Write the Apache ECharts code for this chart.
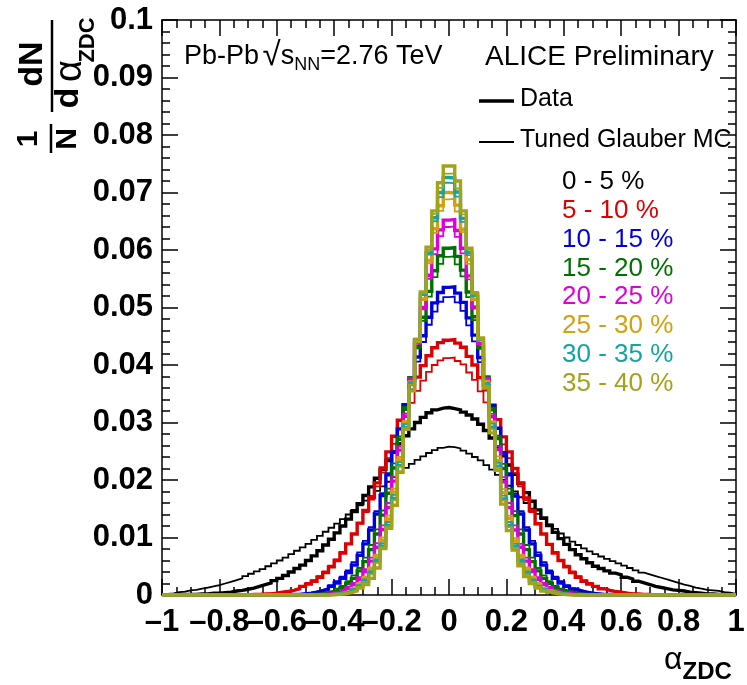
<!DOCTYPE html>
<html>
<head>
<meta charset="utf-8">
<script src="https://cdn.jsdelivr.net/npm/echarts@6.0.0/dist/echarts.min.js"></script>
<style>
  html, body { margin: 0; padding: 0; background: #fff; }
  #chart { width: 747px; height: 685px; }
</style>
</head>
<body>
<div id="chart"></div>
<script>
// 100 bins of width 0.02 between -1 and 1
const binLow = -1;
const binWidth = 0.02;

const xTickLabels = ['\u20131', '\u20130.8', '\u20130.6', '\u20130.4', '\u20130.2', '0', '0.2', '0.4', '0.6', '0.8', '1'];
const yTickLabels = ['0', '0.01', '0.02', '0.03', '0.04', '0.05', '0.06', '0.07', '0.08', '0.09', '0.1'];

const classes = ['0 - 5 %', '5 - 10 %', '10 - 15 %', '15 - 20 %', '20 - 25 %', '25 - 30 %', '30 - 35 %', '35 - 40 %'];
const classColors = ['#000000', '#dd0000', '#0000dd', '#007000', '#dd00dd', '#d4a010', '#16a3a3', '#a3a31a'];

// 1/N dN/dalpha per bin, data (thick) and tuned Glauber MC (thin)
const data0_5 = [
  0, 0, 0.0001, 0.0001, 0.0001, 0.0001, 0.0002, 0.0002, 0.0003, 0.0003,
  0.0004, 0.0005, 0.0007, 0.0008, 0.0010, 0.0012, 0.0015, 0.0018, 0.0021, 0.0025,
  0.0029, 0.0034, 0.0040, 0.0046, 0.0052, 0.0060, 0.0068, 0.0077, 0.0087, 0.0097,
  0.0108, 0.0120, 0.0132, 0.0145, 0.0159, 0.0173, 0.0188, 0.0203, 0.0218, 0.0234,
  0.0249, 0.0263, 0.0277, 0.0289, 0.0300, 0.0309, 0.0317, 0.0322, 0.0325, 0.0326,
  0.0324, 0.0322, 0.0318, 0.0313, 0.0306, 0.0297, 0.0286, 0.0273, 0.0258, 0.0242,
  0.0226, 0.0210, 0.0194, 0.0178, 0.0163, 0.0148, 0.0134, 0.0121, 0.0109, 0.0098,
  0.0088, 0.0079, 0.0070, 0.0063, 0.0056, 0.0050, 0.0046, 0.0042, 0.0038, 0.0035,
  0.0031, 0.0028, 0.0024, 0.0021, 0.0018, 0.0015, 0.0013, 0.0011, 0.0009, 0.0008,
  0.0007, 0.0005, 0.0004, 0.0003, 0.0002, 0.0002, 0.0001, 0.0001, 0.0001, 0
];
const mc0_5 = [
  0.0002, 0.0003, 0.0005, 0.0006, 0.0008, 0.0009, 0.0011, 0.0013, 0.0015, 0.0017,
  0.0020, 0.0023, 0.0026, 0.0029, 0.0033, 0.0037, 0.0041, 0.0045, 0.0050, 0.0055,
  0.0060, 0.0065, 0.0071, 0.0077, 0.0083, 0.0089, 0.0096, 0.0103, 0.0110, 0.0117,
  0.0124, 0.0132, 0.0140, 0.0148, 0.0156, 0.0164, 0.0172, 0.0181, 0.0189, 0.0197,
  0.0205, 0.0213, 0.0221, 0.0228, 0.0235, 0.0241, 0.0247, 0.0252, 0.0256, 0.0258,
  0.0257, 0.0255, 0.0251, 0.0246, 0.0240, 0.0234, 0.0226, 0.0218, 0.0209, 0.0200,
  0.0190, 0.0180, 0.0170, 0.0160, 0.0150, 0.0141, 0.0132, 0.0123, 0.0115, 0.0107,
  0.0100, 0.0093, 0.0087, 0.0081, 0.0076, 0.0071, 0.0067, 0.0063, 0.0059, 0.0055,
  0.0051, 0.0047, 0.0043, 0.0039, 0.0036, 0.0033, 0.0030, 0.0027, 0.0024, 0.0021,
  0.0018, 0.0016, 0.0013, 0.0011, 0.0009, 0.0008, 0.0007, 0.0005, 0.0004, 0.0002
];
const data5_10 = [
  0, 0, 0, 0, 0, 0, 0, 0, 0, 0,
  0, 0, 0, 0, 0, 0.0001, 0.0001, 0.0002, 0.0002, 0.0003,
  0.0005, 0.0006, 0.0008, 0.0011, 0.0015, 0.0019, 0.0024, 0.0031, 0.0039, 0.0049,
  0.0060, 0.0073, 0.0089, 0.0106, 0.0125, 0.0147, 0.0170, 0.0195, 0.0221, 0.0249,
  0.0276, 0.0304, 0.0330, 0.0356, 0.0379, 0.0399, 0.0416, 0.0430, 0.0439, 0.0443,
  0.0444, 0.0438, 0.0431, 0.0415, 0.0400, 0.0378, 0.0357, 0.0329, 0.0305, 0.0275,
  0.0249, 0.0220, 0.0195, 0.0169, 0.0147, 0.0124, 0.0106, 0.0088, 0.0073, 0.0060,
  0.0049, 0.0039, 0.0031, 0.0024, 0.0019, 0.0015, 0.0011, 0.0008, 0.0006, 0.0005,
  0.0003, 0.0002, 0.0002, 0.0001, 0.0001, 0, 0, 0, 0, 0,
  0, 0, 0, 0, 0, 0, 0, 0, 0, 0
];
const mc5_10 = [
  0, 0, 0, 0, 0, 0, 0, 0, 0, 0,
  0, 0, 0, 0, 0.0001, 0.0001, 0.0002, 0.0002, 0.0003, 0.0004,
  0.0005, 0.0007, 0.0009, 0.0012, 0.0016, 0.0021, 0.0026, 0.0033, 0.0041, 0.0051,
  0.0062, 0.0075, 0.0089, 0.0106, 0.0124, 0.0144, 0.0166, 0.0189, 0.0213, 0.0238,
  0.0263, 0.0288, 0.0312, 0.0334, 0.0355, 0.0373, 0.0388, 0.0400, 0.0408, 0.0412,
  0.0413, 0.0407, 0.0401, 0.0387, 0.0374, 0.0354, 0.0335, 0.0311, 0.0289, 0.0262,
  0.0238, 0.0212, 0.0189, 0.0165, 0.0144, 0.0123, 0.0106, 0.0088, 0.0075, 0.0061,
  0.0051, 0.0041, 0.0033, 0.0026, 0.0021, 0.0016, 0.0012, 0.0009, 0.0007, 0.0005,
  0.0004, 0.0003, 0.0002, 0.0002, 0.0001, 0.0001, 0, 0, 0, 0,
  0, 0, 0, 0, 0, 0, 0, 0, 0, 0
];
const data10_15 = [
  0, 0, 0, 0, 0, 0, 0, 0, 0, 0,
  0, 0, 0, 0, 0, 0, 0, 0, 0, 0,
  0, 0, 0.0001, 0.0001, 0.0002, 0.0003, 0.0005, 0.0007, 0.0010, 0.0015,
  0.0021, 0.0029, 0.0039, 0.0052, 0.0069, 0.0089, 0.0113, 0.0141, 0.0173, 0.0209,
  0.0248, 0.0289, 0.0331, 0.0374, 0.0414, 0.0451, 0.0483, 0.0508, 0.0526, 0.0535,
  0.0536, 0.0525, 0.0509, 0.0482, 0.0452, 0.0413, 0.0375, 0.0330, 0.0290, 0.0247,
  0.0209, 0.0172, 0.0141, 0.0113, 0.0089, 0.0069, 0.0052, 0.0039, 0.0029, 0.0021,
  0.0015, 0.0010, 0.0007, 0.0005, 0.0003, 0.0002, 0.0001, 0.0001, 0, 0,
  0, 0, 0, 0, 0, 0, 0, 0, 0, 0,
  0, 0, 0, 0, 0, 0, 0, 0, 0, 0
];
const mc10_15 = [
  0, 0, 0, 0, 0, 0, 0, 0, 0, 0,
  0, 0, 0, 0, 0, 0, 0, 0, 0, 0,
  0, 0.0001, 0.0001, 0.0002, 0.0003, 0.0004, 0.0006, 0.0009, 0.0012, 0.0017,
  0.0024, 0.0032, 0.0043, 0.0057, 0.0074, 0.0094, 0.0118, 0.0146, 0.0177, 0.0212,
  0.0250, 0.0289, 0.0329, 0.0368, 0.0406, 0.0440, 0.0470, 0.0493, 0.0510, 0.0518,
  0.0519, 0.0509, 0.0494, 0.0469, 0.0441, 0.0405, 0.0369, 0.0328, 0.0290, 0.0249,
  0.0212, 0.0176, 0.0146, 0.0118, 0.0094, 0.0074, 0.0057, 0.0043, 0.0032, 0.0024,
  0.0017, 0.0012, 0.0009, 0.0006, 0.0004, 0.0003, 0.0002, 0.0001, 0.0001, 0,
  0, 0, 0, 0, 0, 0, 0, 0, 0, 0,
  0, 0, 0, 0, 0, 0, 0, 0, 0, 0
];
const data15_20 = [
  0, 0, 0, 0, 0, 0, 0, 0, 0, 0,
  0, 0, 0, 0, 0, 0, 0, 0, 0, 0,
  0, 0, 0, 0, 0, 0.0001, 0.0001, 0.0002, 0.0004, 0.0006,
  0.0009, 0.0013, 0.0020, 0.0029, 0.0042, 0.0058, 0.0079, 0.0106, 0.0139, 0.0177,
  0.0221, 0.0271, 0.0323, 0.0378, 0.0432, 0.0483, 0.0528, 0.0564, 0.0590, 0.0603,
  0.0604, 0.0589, 0.0565, 0.0527, 0.0484, 0.0431, 0.0379, 0.0322, 0.0272, 0.0220,
  0.0177, 0.0138, 0.0106, 0.0079, 0.0058, 0.0042, 0.0029, 0.0020, 0.0013, 0.0009,
  0.0006, 0.0004, 0.0002, 0.0001, 0.0001, 0, 0, 0, 0, 0,
  0, 0, 0, 0, 0, 0, 0, 0, 0, 0,
  0, 0, 0, 0, 0, 0, 0, 0, 0, 0
];
const mc15_20 = [
  0, 0, 0, 0, 0, 0, 0, 0, 0, 0,
  0, 0, 0, 0, 0, 0, 0, 0, 0, 0,
  0, 0, 0, 0, 0.0001, 0.0001, 0.0002, 0.0003, 0.0005, 0.0007,
  0.0011, 0.0016, 0.0024, 0.0034, 0.0047, 0.0065, 0.0087, 0.0114, 0.0147, 0.0185,
  0.0229, 0.0276, 0.0327, 0.0379, 0.0429, 0.0477, 0.0519, 0.0553, 0.0576, 0.0588,
  0.0589, 0.0575, 0.0554, 0.0518, 0.0478, 0.0428, 0.0380, 0.0326, 0.0277, 0.0228,
  0.0185, 0.0146, 0.0114, 0.0087, 0.0065, 0.0047, 0.0034, 0.0024, 0.0016, 0.0011,
  0.0007, 0.0005, 0.0003, 0.0002, 0.0001, 0.0001, 0, 0, 0, 0,
  0, 0, 0, 0, 0, 0, 0, 0, 0, 0,
  0, 0, 0, 0, 0, 0, 0, 0, 0, 0
];
const data20_25 = [
  0, 0, 0, 0, 0, 0, 0, 0, 0, 0,
  0, 0, 0, 0, 0, 0, 0, 0, 0, 0,
  0, 0, 0, 0, 0, 0, 0, 0.0001, 0.0001, 0.0003,
  0.0004, 0.0007, 0.0011, 0.0018, 0.0027, 0.0041, 0.0059, 0.0083, 0.0114, 0.0152,
  0.0198, 0.0252, 0.0311, 0.0374, 0.0438, 0.0500, 0.0556, 0.0602, 0.0635, 0.0652,
  0.0653, 0.0634, 0.0603, 0.0555, 0.0501, 0.0437, 0.0375, 0.0310, 0.0253, 0.0197,
  0.0152, 0.0113, 0.0083, 0.0059, 0.0041, 0.0027, 0.0018, 0.0011, 0.0007, 0.0004,
  0.0003, 0.0001, 0.0001, 0, 0, 0, 0, 0, 0, 0,
  0, 0, 0, 0, 0, 0, 0, 0, 0, 0,
  0, 0, 0, 0, 0, 0, 0, 0, 0, 0
];
const mc20_25 = [
  0, 0, 0, 0, 0, 0, 0, 0, 0, 0,
  0, 0, 0, 0, 0, 0, 0, 0, 0, 0,
  0, 0, 0, 0, 0, 0, 0, 0.0001, 0.0002, 0.0003,
  0.0005, 0.0009, 0.0014, 0.0021, 0.0031, 0.0045, 0.0065, 0.0090, 0.0121, 0.0160,
  0.0206, 0.0258, 0.0316, 0.0377, 0.0439, 0.0497, 0.0550, 0.0593, 0.0624, 0.0640,
  0.0641, 0.0623, 0.0594, 0.0549, 0.0498, 0.0438, 0.0378, 0.0315, 0.0259, 0.0205,
  0.0160, 0.0121, 0.0089, 0.0065, 0.0045, 0.0031, 0.0021, 0.0014, 0.0009, 0.0005,
  0.0003, 0.0002, 0.0001, 0, 0, 0, 0, 0, 0, 0,
  0, 0, 0, 0, 0, 0, 0, 0, 0, 0,
  0, 0, 0, 0, 0, 0, 0, 0, 0, 0
];
const data25_30 = [
  0, 0, 0, 0, 0, 0, 0, 0, 0, 0,
  0, 0, 0, 0, 0, 0, 0, 0, 0, 0,
  0, 0, 0, 0, 0, 0, 0, 0, 0, 0.0001,
  0.0002, 0.0004, 0.0007, 0.0011, 0.0018, 0.0029, 0.0044, 0.0066, 0.0095, 0.0132,
  0.0179, 0.0235, 0.0299, 0.0369, 0.0443, 0.0515, 0.0582, 0.0637, 0.0677, 0.0700,
  0.0699, 0.0678, 0.0636, 0.0583, 0.0514, 0.0444, 0.0368, 0.0300, 0.0234, 0.0178,
  0.0133, 0.0094, 0.0066, 0.0044, 0.0029, 0.0018, 0.0011, 0.0007, 0.0004, 0.0002,
  0.0001, 0, 0, 0, 0, 0, 0, 0, 0, 0,
  0, 0, 0, 0, 0, 0, 0, 0, 0, 0,
  0, 0, 0, 0, 0, 0, 0, 0, 0, 0
];
const mc25_30 = [
  0, 0, 0, 0, 0, 0, 0, 0, 0, 0,
  0, 0, 0, 0, 0, 0, 0, 0, 0, 0,
  0, 0, 0, 0, 0, 0, 0, 0, 0.0001, 0.0001,
  0.0003, 0.0005, 0.0008, 0.0013, 0.0021, 0.0032, 0.0048, 0.0070, 0.0100, 0.0138,
  0.0185, 0.0240, 0.0303, 0.0372, 0.0444, 0.0513, 0.0577, 0.0630, 0.0668, 0.0688,
  0.0689, 0.0667, 0.0631, 0.0576, 0.0514, 0.0443, 0.0373, 0.0302, 0.0241, 0.0184,
  0.0138, 0.0099, 0.0070, 0.0048, 0.0032, 0.0021, 0.0013, 0.0008, 0.0005, 0.0003,
  0.0001, 0.0001, 0, 0, 0, 0, 0, 0, 0, 0,
  0, 0, 0, 0, 0, 0, 0, 0, 0, 0,
  0, 0, 0, 0, 0, 0, 0, 0, 0, 0
];
const data30_35 = [
  0, 0, 0, 0, 0, 0, 0, 0, 0, 0,
  0, 0, 0, 0, 0, 0, 0, 0, 0, 0,
  0, 0, 0, 0, 0, 0, 0, 0, 0, 0.0001,
  0.0002, 0.0003, 0.0005, 0.0009, 0.0015, 0.0024, 0.0038, 0.0058, 0.0085, 0.0121,
  0.0168, 0.0225, 0.0291, 0.0366, 0.0444, 0.0523, 0.0595, 0.0656, 0.0700, 0.0726,
  0.0725, 0.0701, 0.0655, 0.0596, 0.0521, 0.0445, 0.0364, 0.0292, 0.0224, 0.0167,
  0.0121, 0.0084, 0.0058, 0.0038, 0.0024, 0.0015, 0.0009, 0.0005, 0.0003, 0.0002,
  0.0001, 0, 0, 0, 0, 0, 0, 0, 0, 0,
  0, 0, 0, 0, 0, 0, 0, 0, 0, 0,
  0, 0, 0, 0, 0, 0, 0, 0, 0, 0
];
const mc30_35 = [
  0, 0, 0, 0, 0, 0, 0, 0, 0, 0,
  0, 0, 0, 0, 0, 0, 0, 0, 0, 0,
  0, 0, 0, 0, 0, 0, 0, 0, 0, 0.0001,
  0.0002, 0.0003, 0.0006, 0.0010, 0.0017, 0.0027, 0.0041, 0.0062, 0.0090, 0.0127,
  0.0174, 0.0231, 0.0297, 0.0370, 0.0446, 0.0522, 0.0592, 0.0650, 0.0692, 0.0717,
  0.0716, 0.0693, 0.0649, 0.0591, 0.0523, 0.0445, 0.0369, 0.0298, 0.0230, 0.0173,
  0.0127, 0.0089, 0.0062, 0.0041, 0.0027, 0.0016, 0.0010, 0.0006, 0.0003, 0.0002,
  0.0001, 0, 0, 0, 0, 0, 0, 0, 0, 0,
  0, 0, 0, 0, 0, 0, 0, 0, 0, 0,
  0, 0, 0, 0, 0, 0, 0, 0, 0, 0
];
const data35_40 = [
  0, 0, 0, 0, 0, 0, 0, 0, 0, 0,
  0, 0, 0, 0, 0, 0, 0, 0, 0, 0,
  0, 0, 0, 0, 0, 0, 0, 0, 0, 0,
  0.0001, 0.0002, 0.0004, 0.0007, 0.0012, 0.0018, 0.0029, 0.0047, 0.0081, 0.0116,
  0.0156, 0.0214, 0.0288, 0.0355, 0.0441, 0.0527, 0.0605, 0.0668, 0.0717, 0.0746,
  0.0746, 0.0720, 0.0668, 0.0603, 0.0525, 0.0447, 0.0360, 0.0282, 0.0217, 0.0158,
  0.0112, 0.0078, 0.0051, 0.0032, 0.0020, 0.0012, 0.0007, 0.0004, 0.0002, 0.0001,
  0, 0, 0, 0, 0, 0, 0, 0, 0, 0,
  0, 0, 0, 0, 0, 0, 0, 0, 0, 0,
  0, 0, 0, 0, 0, 0, 0, 0, 0, 0
];
const mc35_40 = [
  0, 0, 0, 0, 0, 0, 0, 0, 0, 0,
  0, 0, 0, 0, 0, 0, 0, 0, 0, 0,
  0, 0, 0, 0, 0, 0, 0, 0, 0, 0.0001,
  0.0001, 0.0003, 0.0005, 0.0008, 0.0014, 0.0023, 0.0036, 0.0056, 0.0083, 0.0119,
  0.0165, 0.0223, 0.0290, 0.0366, 0.0446, 0.0526, 0.0600, 0.0663, 0.0708, 0.0733,
  0.0733, 0.0707, 0.0662, 0.0601, 0.0527, 0.0445, 0.0364, 0.0288, 0.0221, 0.0164,
  0.0118, 0.0082, 0.0055, 0.0036, 0.0023, 0.0014, 0.0008, 0.0005, 0.0003, 0.0001,
  0.0001, 0, 0, 0, 0, 0, 0, 0, 0, 0,
  0, 0, 0, 0, 0, 0, 0, 0, 0, 0,
  0, 0, 0, 0, 0, 0, 0, 0, 0, 0
];

const dataHists = [data0_5, data5_10, data10_15, data15_20, data20_25, data25_30, data30_35, data35_40];
const mcHists = [mc0_5, mc5_10, mc10_15, mc15_20, mc20_25, mc25_30, mc30_35, mc35_40];

(function() {
  const FONT = '"Liberation Sans", Arial, Helvetica, sans-serif';
  const ctx = document.createElement('canvas').getContext('2d');

  // step histogram: one point per bin low edge, plus the upper edge of the last bin
  const histPoints = (vals) => {
    const pts = vals.map((v, i) => [+(binLow + i * binWidth).toFixed(2), v]);
    pts.push([+(binLow + vals.length * binWidth).toFixed(2), vals[vals.length - 1]]);
    return pts;
  };

  const series = [];
  classes.forEach((name, i) => {
    series.push({
      name: name + ' data', type: 'line', step: 'end', symbol: 'none', silent: true,
      data: histPoints(dataHists[i]),
      lineStyle: { color: classColors[i], width: 3.4, join: 'miter' },
      z: 2 + i
    });
    series.push({
      name: name + ' MC', type: 'line', step: 'end', symbol: 'none', silent: true,
      data: histPoints(mcHists[i]),
      lineStyle: { color: classColors[i], width: 1.8, join: 'miter' },
      z: 2 + i
    });
  });

  // lay out text pieces left to right (sub/superscripts via dy)
  const textRow = (x, y, pieces) => {
    const out = [];
    pieces.forEach(p => {
      const weight = p.bold ? 'bold' : 'normal';
      ctx.font = `${weight} ${p.size}px ${FONT}`;
      out.push({
        type: 'text', x: x, y: y + (p.dy || 0), silent: true, z: 100,
        style: {
          text: p.text, fontSize: p.size, fontFamily: FONT, fontWeight: weight,
          fill: p.color || '#000', align: 'left', verticalAlign: 'middle'
        }
      });
      x += ctx.measureText(p.text).width + (p.gap || 0);
    });
    return out;
  };

  const rotText = (x, y, text, size, bold) => ({
    type: 'text', x: x, y: y, rotation: Math.PI / 2, silent: true, z: 100,
    style: {
      text: text, fontSize: size, fontFamily: FONT, fontWeight: bold ? 'bold' : 'normal',
      fill: '#000', align: 'center', verticalAlign: 'middle'
    }
  });

  const graphic = [
    ...textRow(184, 57, [
      { text: 'Pb-Pb ', size: 27, gap: -4 },
      { text: '\u221a', size: 33, dy: -1 },
      { text: 's', size: 27 },
      { text: 'NN', size: 18, dy: 8 },
      { text: '=2.76 TeV', size: 27 }
    ]),
    ...textRow(485, 57, [{ text: 'ALICE Preliminary', size: 28 }]),
    { type: 'line', silent: true, z: 100, shape: { x1: 479, y1: 101, x2: 514, y2: 101 }, style: { stroke: '#000', lineWidth: 3.4 } },
    ...textRow(520, 99, [{ text: 'Data', size: 25 }]),
    { type: 'line', silent: true, z: 100, shape: { x1: 479, y1: 142, x2: 514, y2: 142 }, style: { stroke: '#000', lineWidth: 1.8 } },
    ...textRow(520, 140, [{ text: 'Tuned Glauber MC', size: 25 }]),
    // y axis title, rotated
    rotText(33, 64, 'dN', 34, true),
    { type: 'line', silent: true, z: 100, shape: { x1: 52, y1: 20, x2: 52, y2: 112 }, style: { stroke: '#000', lineWidth: 2.5 } },
    rotText(69, 98, 'd', 34, true),
    rotText(71, 71, '\u03b1', 38, false),
    rotText(88, 40, 'ZDC', 22, true),
    rotText(29, 139, '1', 30, true),
    { type: 'line', silent: true, z: 100, shape: { x1: 51, y1: 124, x2: 51, y2: 153 }, style: { stroke: '#000', lineWidth: 2.5 } },
    rotText(68, 139, 'N', 30, true),
    // x axis title
    ...textRow(664, 660, [
      { text: '\u03b1', size: 32 },
      { text: 'ZDC', size: 24, bold: true, dy: 12 }
    ])
  ];
  classes.forEach((c, i) => {
    graphic.push(...textRow(562, 182 + 28.8 * i, [{ text: c, size: 26, color: classColors[i] }]));
  });

  const tickStyle = { lineStyle: { color: '#000', width: 1.5 } };
  const baseX = {
    type: 'value', min: -1, max: 1, interval: 0.2,
    axisLine: { show: true, onZero: false, lineStyle: { color: '#000', width: 1.5 } },
    axisTick: { show: true, inside: true, length: 16, ...tickStyle },
    minorTick: { show: true, splitNumber: 4, length: 8, ...tickStyle },
    splitLine: { show: false }
  };
  const baseY = {
    type: 'value', min: 0, max: 0.1, interval: 0.01,
    axisLine: { show: true, onZero: false, lineStyle: { color: '#000', width: 1.5 } },
    axisTick: { show: true, inside: true, length: 16, ...tickStyle },
    minorTick: { show: true, splitNumber: 5, length: 8, ...tickStyle },
    splitLine: { show: false }
  };

  const option = {
    animation: false,
    backgroundColor: '#fff',
    grid: { left: 162, right: 11, top: 20, bottom: 90, containLabel: false, outerBoundsMode: 'none' },
    xAxis: [
      {
        ...baseX, position: 'bottom',
        axisLabel: {
          show: true, margin: 12, color: '#000', fontSize: 31, fontWeight: 'bold', fontFamily: FONT,
          formatter: (v) => xTickLabels[Math.round((v - binLow) / 0.2)]
        }
      },
      { ...baseX, position: 'top', axisLabel: { show: false } }
    ],
    yAxis: [
      {
        ...baseY, position: 'left',
        axisLabel: {
          show: true, margin: 9, color: '#000', fontSize: 31, fontWeight: 'bold', fontFamily: FONT,
          formatter: (v) => yTickLabels[Math.round(v / 0.01)]
        }
      },
      { ...baseY, position: 'right', axisLabel: { show: false } }
    ],
    series: series,
    graphic: graphic
  };

  const chart = echarts.init(document.getElementById('chart'), null, { renderer: 'canvas' });
  chart.setOption(option);
})();
</script>
</body>
</html>
